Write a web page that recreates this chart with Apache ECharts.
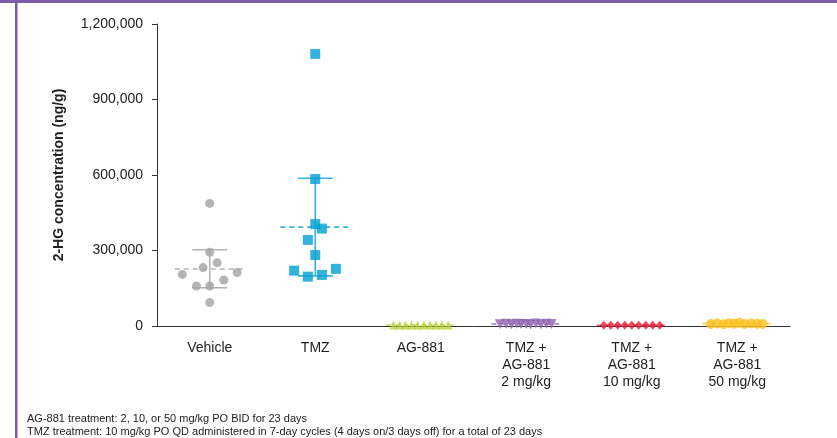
<!DOCTYPE html>
<html><head><meta charset="utf-8">
<script src="https://cdn.jsdelivr.net/npm/echarts@6/dist/echarts.min.js"></script>
<style>html,body{margin:0;padding:0;background:#fff}#c{width:837px;height:438px}</style>
</head><body><div id="c"></div>
<script>
// ---- data ----
var categories = ['Vehicle', 'TMZ', 'AG-881', 'TMZ +\nAG-881\n2 mg/kg', 'TMZ +\nAG-881\n10 mg/kg', 'TMZ +\nAG-881\n50 mg/kg'];
var yTicks = [0, 300000, 600000, 900000, 1200000];

var vehicleValues = [487000, 293000, 251000, 232000, 205000, 213000, 183000, 159000, 159000, 93000];
var vehicleJitter = [0, 0, 0.07, -0.063, -0.26, 0.26, 0.133, -0.126, 0, 0];

var tmzValues = [1081000, 584000, 405000, 387000, 342000, 282000, 220000, 227000, 196000, 203000];
var tmzJitter = [0, 0, 0, 0.063, -0.07, 0, -0.2, 0.196, -0.07, 0.063];

var ag881Values = [3500, 3800, 3500, 4000, 3500, 3800, 3500, 3500, 3800, 4000];
var ag881Jitter = [-0.26, -0.2, -0.145, -0.087, -0.029, 0.029, 0.087, 0.145, 0.2, 0.26];

var combo2Values = [7000, 8500, 6500, 9000, 7500, 8000, 6000, 9500, 7000, 8500, 7500];
var combo2Jitter = [-0.25, -0.19, -0.14, -0.09, -0.05, 0, 0.04, 0.09, 0.14, 0.19, 0.24];

var combo10Values = [3000, 3000, 3000, 3000, 3000, 3000, 3000, 3000, 3000];
var combo10Jitter = [-0.265, -0.199, -0.133, -0.066, 0, 0.066, 0.133, 0.199, 0.265];

var combo50Values = [8000, 10000, 7000, 11000, 9000, 13000, 8000, 10000, 9000, 8000];
var combo50Jitter = [-0.25, -0.19, -0.13, -0.08, -0.03, 0.02, 0.07, 0.13, 0.19, 0.24];

var meanValues = [226500, 393000, 3700, 7700, 3000, 9300];
var errLow =   [152000, 199000, 3500, 7000, 3000, 8500];
var errHigh =  [303000, 587000, 4000, 8500, 3000, 10000];

var footnotes = [
  'AG-881 treatment: 2, 10, or 50 mg/kg PO BID for 23 days',
  'TMZ treatment: 10 mg/kg PO QD administered in 7-day cycles (4 days on/3 days off) for a total of 23 days'
];

// ---- styles ----
var pointColors = ['#a3a3a3', '#00a0d2', '#b9d138', '#8e63b2', '#e31f37', '#fcc020'];
var barColors = ['#b4b4b4', '#3bb2de', '#c5da66', '#a384c2', '#ea5567', '#fdcf55'];
var FONT = 'Liberation Sans, Arial, sans-serif';

function pts(vals, jit, g) {
  return vals.map(function (v, i) { return [g + jit[i], v]; });
}

var statData = meanValues.map(function (m, i) { return [i, m, errLow[i], errHigh[i]]; });

function renderStat(params, api) {
  var g = api.value(0), m = api.value(1), lo = api.value(2), hi = api.value(3);
  var pm = api.coord([g, m]), pl = api.coord([g, lo]), ph = api.coord([g, hi]);
  var col = barColors[params.dataIndex];
  var children = [];
  var showBar = params.dataIndex < 2;
  if (showBar) {
    children.push({ type: 'line', shape: { x1: pl[0], y1: pl[1], x2: ph[0], y2: ph[1] }, style: { stroke: col, lineWidth: 1.6 } });
    children.push({ type: 'line', shape: { x1: ph[0] - 17.5, y1: ph[1], x2: ph[0] + 17.5, y2: ph[1] }, style: { stroke: col, lineWidth: 1.6 } });
    children.push({ type: 'line', shape: { x1: pl[0] - 17.5, y1: pl[1], x2: pl[0] + 17.5, y2: pl[1] }, style: { stroke: col, lineWidth: 1.6 } });
  }
  children.push({ type: 'line', shape: { x1: pm[0] - 35, y1: pm[1], x2: pm[0] + 35, y2: pm[1] }, style: { stroke: col, lineWidth: 1.6, lineDash: [5, 4] } });
  return { type: 'group', children: children };
}

var chart = echarts.init(document.getElementById('c'), null, { renderer: 'canvas' });
chart.setOption({
  animation: false,
  backgroundColor: '#fff',
  textStyle: { fontFamily: FONT },
  grid: { left: 157, right: 47, top: 24, bottom: 112, containLabel: false },
  xAxis: [
    {
      type: 'category', data: categories, boundaryGap: true,
      axisLine: { lineStyle: { color: '#333', width: 1 } },
      axisTick: { alignWithLabel: true, length: 4, lineStyle: { color: '#333' } },
      axisLabel: { color: '#222', fontSize: 14, fontFamily: FONT, lineHeight: 17, margin: 14, interval: 0 },
      splitLine: { show: false }
    },
    { type: 'value', min: -0.5, max: 5.5, show: false, splitLine: { show: false } }
  ],
  yAxis: {
    type: 'value', min: yTicks[0], max: yTicks[yTicks.length - 1], interval: yTicks[1] - yTicks[0],
    name: '2-HG concentration (ng/g)', nameLocation: 'middle', nameGap: 91, nameRotate: 90,
    nameTextStyle: { color: '#222', fontSize: 14, fontWeight: 'bold', fontFamily: FONT },
    axisLine: { show: true, onZero: false, lineStyle: { color: '#333', width: 1 } },
    axisTick: { show: true, length: 5, lineStyle: { color: '#333' } },
    axisLabel: { color: '#222', fontSize: 14, fontFamily: FONT, margin: 14,
      formatter: function (v) { return v.toLocaleString('en-US'); } },
    splitLine: { show: false }
  },
  series: [
    { type: 'custom', xAxisIndex: 1, renderItem: renderStat, data: statData, z: 1, silent: true },
    { type: 'scatter', xAxisIndex: 1, data: pts(vehicleValues, vehicleJitter, 0), symbol: 'circle', symbolSize: 9, itemStyle: { color: pointColors[0] }, z: 3 },
    { type: 'scatter', xAxisIndex: 1, data: pts(tmzValues, tmzJitter, 1), symbol: 'rect', symbolSize: 10, itemStyle: { color: pointColors[1] }, z: 3 },
    { type: 'scatter', xAxisIndex: 1, data: pts(ag881Values, ag881Jitter, 2), symbol: 'triangle', symbolSize: [8, 9], itemStyle: { color: pointColors[2] }, z: 3 },
    { type: 'scatter', xAxisIndex: 1, data: pts(combo2Values, combo2Jitter, 3), symbol: 'triangle', symbolRotate: 180, symbolSize: [10, 10], itemStyle: { color: pointColors[3] }, z: 3 },
    { type: 'scatter', xAxisIndex: 1, data: pts(combo10Values, combo10Jitter, 4), symbol: 'diamond', symbolSize: [8, 9], itemStyle: { color: pointColors[4] }, z: 3 },
    { type: 'scatter', xAxisIndex: 1, data: pts(combo50Values, combo50Jitter, 5), symbol: 'circle', symbolSize: 10, itemStyle: { color: pointColors[5] }, z: 3 }
  ],
  graphic: [
    { type: 'rect', left: 0, top: 0, shape: { width: 837, height: 3 }, style: { fill: '#7d5ba6' } },
    { type: 'rect', left: 15, top: 0, shape: { width: 2.5, height: 438 }, style: { fill: '#7d5ba6' } },
    { type: 'text', left: 27, top: 413, style: { text: footnotes[0], fontSize: 11, fontFamily: FONT, fill: '#222' } },
    { type: 'text', left: 27, top: 426, style: { text: footnotes[1], fontSize: 11, fontFamily: FONT, fill: '#222' } }
  ]
});
</script></body></html>
